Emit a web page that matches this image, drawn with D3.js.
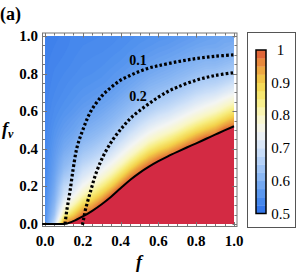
<!DOCTYPE html>
<html>
<head>
<meta charset="utf-8">
<script src="https://cdn.jsdelivr.net/npm/d3@7"></script>
<style>
  body { margin: 0; background: #fff; }
</style>
</head>
<body>
<script>
// grid of the density field: columns are f, rows are f_v from top (1.0) to bottom (0.0)
const gridF = [0, 0.05, 0.1, 0.15, 0.2, 0.25, 0.3, 0.35, 0.4, 0.45, 0.5, 0.55, 0.6, 0.65, 0.7, 0.75, 0.8, 0.85, 0.9, 0.95, 1];
const gridFv = [1, 0.95, 0.9, 0.85, 0.8, 0.75, 0.7, 0.65, 0.6, 0.55, 0.5, 0.45, 0.4, 0.35, 0.3, 0.25, 0.2, 0.15, 0.1, 0.05, 0];
const fieldRows = [
  [.525, .528, .532, .536, .538, .539, .540, .542, .545, .548, .551, .554, .556, .558, .562, .566, .571, .575, .579, .584, .580],
  [.526, .530, .533, .537, .540, .541, .542, .545, .548, .552, .556, .559, .563, .566, .571, .576, .581, .585, .586, .592, .598],
  [.527, .532, .535, .539, .542, .544, .546, .549, .552, .557, .562, .567, .572, .576, .581, .587, .594, .600, .598, .604, .610],
  [.528, .534, .537, .541, .545, .548, .549, .553, .557, .563, .570, .577, .582, .587, .594, .601, .609, .615, .615, .623, .632],
  [.529, .536, .540, .544, .548, .550, .553, .558, .564, .572, .580, .588, .595, .601, .609, .617, .627, .635, .637, .647, .658],
  [.530, .538, .543, .548, .552, .555, .558, .564, .573, .582, .592, .603, .610, .617, .627, .637, .649, .660, .665, .678, .695],
  [.531, .540, .546, .552, .557, .561, .566, .574, .583, .595, .607, .619, .629, .637, .649, .663, .678, .690, .700, .720, .740],
  [.532, .543, .550, .556, .563, .569, .576, .584, .597, .610, .625, .640, .652, .663, .678, .694, .714, .730, .746, .770, .795],
  [.533, .546, .555, .562, .573, .579, .587, .599, .612, .629, .647, .663, .681, .694, .714, .734, .755, .775, .795, .828, .863],
  [.534, .550, .562, .572, .583, .591, .601, .613, .631, .652, .675, .698, .718, .734, .755, .780, .807, .835, .863, .902, .940],
  [.535, .555, .570, .580, .597, .606, .617, .633, .655, .681, .710, .738, .760, .780, .807, .842, .878, .910, .940, .990, 1],
  [.536, .560, .580, .592, .612, .623, .638, .657, .684, .718, .750, .785, .814, .842, .878, .918, .960, 1, 1, 1, 1],
  [.537, .565, .590, .607, .631, .645, .663, .687, .722, .760, .800, .849, .886, .918, .960, 1, 1, 1, 1, 1, 1],
  [.538, .570, .605, .625, .655, .672, .694, .726, .765, .814, .870, .926, .970, 1, 1, 1, 1, 1, 1, 1, 1],
  [.539, .575, .620, .645, .684, .706, .734, .770, .821, .886, .950, 1, 1, 1, 1, 1, 1, 1, 1, 1, 1],
  [.540, .582, .645, .670, .715, .745, .780, .828, .894, .970, 1, 1, 1, 1, 1, 1, 1, 1, 1, 1, 1],
  [.542, .590, .675, .705, .755, .795, .842, .902, .980, 1, 1, 1, 1, 1, 1, 1, 1, 1, 1, 1, 1],
  [.544, .600, .700, .745, .810, .863, .918, .990, 1, 1, 1, 1, 1, 1, 1, 1, 1, 1, 1, 1, 1],
  [.546, .615, .750, .810, .894, .940, 1, 1, 1, 1, 1, 1, 1, 1, 1, 1, 1, 1, 1, 1, 1],
  [.548, .635, .820, .900, .980, 1, 1, 1, 1, 1, 1, 1, 1, 1, 1, 1, 1, 1, 1, 1, 1],
  [.550, .680, .970, 1, 1, 1, 1, 1, 1, 1, 1, 1, 1, 1, 1, 1, 1, 1, 1, 1, 1]
];

// solid boundary of the saturated (red) region
const boundary = [[-0.015, 0], [0, 0], [0.05, 0], [0.1, 0], [0.15, 0.015], [0.2, 0.04], [0.25, 0.07], [0.3, 0.105],
  [0.35, 0.145], [0.4, 0.19], [0.45, 0.234], [0.5, 0.272], [0.55, 0.305], [0.6, 0.334], [0.65, 0.36],
  [0.7, 0.384], [0.75, 0.407], [0.8, 0.429], [0.85, 0.452], [0.9, 0.475], [0.95, 0.498], [1, 0.52]];

// dotted contours
const contour01 = [[0.106, 0], [0.115, 0.07], [0.132, 0.172], [0.15, 0.3], [0.17, 0.41], [0.2, 0.5], [0.24, 0.595],
  [0.3, 0.68], [0.35, 0.727], [0.4, 0.765], [0.45, 0.79], [0.5, 0.812], [0.55, 0.83], [0.6, 0.842],
  [0.7, 0.863], [0.8, 0.88], [0.9, 0.892], [1, 0.9]];
const contour02 = [[0.198, -0.005], [0.205, 0.03], [0.215, 0.08], [0.24, 0.17], [0.27, 0.27], [0.31, 0.365],
  [0.36, 0.45], [0.41, 0.515], [0.45, 0.56], [0.5, 0.603], [0.55, 0.64], [0.6, 0.675], [0.65, 0.705],
  [0.7, 0.728], [0.8, 0.765], [0.9, 0.79], [1, 0.805]];
const contourLabels = ['0.1', '0.2'];

const axisTicks = [0, 0.2, 0.4, 0.6, 0.8, 1];
const minorTicks = [0, 0.05, 0.1, 0.15, 0.2, 0.25, 0.3, 0.35, 0.4, 0.45, 0.5, 0.55, 0.6, 0.65, 0.7, 0.75, 0.8, 0.85, 0.9, 0.95, 1];
const barTicks = [0.5, 0.6, 0.7, 0.8, 0.9, 1];
const barTickLabels = ['0.5', '0.6', '0.7', '0.8', '0.9', '1'];
const barBands = [0.5, 0.525, 0.55, 0.575, 0.6, 0.625, 0.65, 0.675, 0.7, 0.725, 0.75, 0.775, 0.8, 0.825, 0.85, 0.875, 0.9, 0.925, 0.95, 0.975];

const colorStops = [0.5, 0.55, 0.6, 0.65, 0.7, 0.75, 0.8, 0.85, 0.9, 0.95, 1];
const colorHex = ['#2c6fe8', '#4f90ee', '#7fb0f2', '#aacbf6', '#d2e3f8', '#f3f5f3', '#f9f6c4', '#f7ec7c', '#f3d24c', '#eb9a3e', '#dd5436'];

const W = 296, H = 273;
const svg = d3.select('body').append('svg')
  .attr('width', W).attr('height', H);

// every text node gets the serif face as a plain attribute
function label(parent, txt) {
  return parent.append('text').attr('font-family', 'Liberation Serif').text(txt);
}

const x = d3.scaleLinear().domain([0, 1]).range([45, 234]);
const y = d3.scaleLinear().domain([0, 1]).range([224, 36]);
const color = d3.scaleLinear().domain(colorStops).range(colorHex).clamp(true);

svg.append('clipPath').attr('id', 'plotclip')
  .append('rect')
  .attr('x', x(0)).attr('y', y(1))
  .attr('width', x(1) - x(0)).attr('height', y(0) - y(1));

// density field via d3.contours, many thin levels so it reads as a smooth gradient
const n = gridF.length, m = gridFv.length;
const values = fieldRows.flat();
const step = 0.005;
const levels = d3.range(0.5, 1.0, step);
const bands = d3.contours().size([n, m]).thresholds(levels)(values);
const gx = d3.scaleLinear().domain([0.5, n - 0.5]).range([gridF[0], gridF[n - 1]]);
const gy = d3.scaleLinear().domain([0.5, m - 0.5]).range([gridFv[0], gridFv[m - 1]]);
const toScreen = d3.geoTransform({
  point(px, py) { this.stream.point(x(gx(px)), y(gy(py))); }
});
const bandPath = d3.geoPath(toScreen);

const field = svg.append('g').attr('clip-path', 'url(#plotclip)');
field.selectAll('path.band')
  .data(bands)
  .enter()
  .append('path')
  .attr('class', 'band')
  .attr('d', bandPath)
  .attr('fill', d => color(d.value + step / 2));

// saturated region under the boundary
const redPts = boundary.filter(d => d[0] >= 0.1);
field.append('path')
  .datum(redPts)
  .attr('d', d3.area().x(d => x(d[0])).y0(y(0)).y1(d => y(d[1])).curve(d3.curveMonotoneX))
  .attr('fill', '#d32a43');

// frame with inward ticks
const fx0 = 42.5, fx1 = 237, fy0 = 33, fy1 = 226.5;
svg.append('rect')
  .attr('x', fx0).attr('y', fy0)
  .attr('width', fx1 - fx0).attr('height', fy1 - fy0)
  .attr('fill', 'none').attr('stroke', '#777').attr('stroke-width', 1);

const tickG = svg.append('g').attr('stroke', '#777').attr('stroke-width', 1);
minorTicks.forEach(t => {
  const major = axisTicks.some(a => Math.abs(a - t) < 1e-9);
  const len = major ? 4.5 : 2.5;
  const px = Math.round(x(t)) + 0.5, py = Math.round(y(t)) + 0.5;
  tickG.append('line').attr('x1', px).attr('x2', px).attr('y1', fy1).attr('y2', fy1 - len);
  tickG.append('line').attr('x1', px).attr('x2', px).attr('y1', fy0).attr('y2', fy0 + len);
  tickG.append('line').attr('y1', py).attr('y2', py).attr('x1', fx0).attr('x2', fx0 + len);
  tickG.append('line').attr('y1', py).attr('y2', py).attr('x1', fx1).attr('x2', fx1 - len);
});

// tick labels
const tickLabels = svg.append('g');
axisTicks.forEach(t => {
  label(tickLabels, d3.format('.1f')(t))
    .attr('x', x(t)).attr('y', 246)
    .attr('text-anchor', 'middle')
    .attr('font-size', 15).attr('font-weight', 'bold');
  label(tickLabels, d3.format('.1f')(t))
    .attr('x', 38).attr('y', y(t) + 5)
    .attr('text-anchor', 'end')
    .attr('font-size', 15).attr('font-weight', 'bold');
});

// boundary and contour lines
const line = d3.line().x(d => x(d[0])).y(d => y(d[1]));
svg.append('path')
  .datum(boundary)
  .attr('d', line.curve(d3.curveMonotoneX))
  .attr('fill', 'none')
  .attr('stroke', '#000')
  .attr('stroke-width', 2);

const dotted = d3.line().x(d => x(d[0])).y(d => y(d[1])).curve(d3.curveCatmullRom);
[contour01, contour02].forEach(c => {
  svg.append('path')
    .datum(c)
    .attr('d', dotted)
    .attr('fill', 'none')
    .attr('stroke', '#000')
    .attr('stroke-width', 3.2)
    .attr('stroke-dasharray', '2.6,2.2');
});

label(svg, contourLabels[0]).attr('x', 138).attr('y', 64.5)
  .attr('text-anchor', 'middle').attr('font-size', 14).attr('font-weight', 'bold');
label(svg, contourLabels[1]).attr('x', 138).attr('y', 100.5)
  .attr('text-anchor', 'middle').attr('font-size', 14).attr('font-weight', 'bold');

// axis labels and panel tag
label(svg, 'f').attr('x', 139).attr('y', 268)
  .attr('text-anchor', 'middle')
  .attr('font-size', 18).attr('font-style', 'italic').attr('font-weight', 'bold');

const yl = label(svg, null).attr('x', 2).attr('y', 135)
  .attr('font-size', 18).attr('font-style', 'italic').attr('font-weight', 'bold');
yl.append('tspan').text('f');
yl.append('tspan').attr('dy', 3).attr('font-size', 12).text('v');

label(svg, '(a)').attr('x', 0).attr('y', 20)
  .attr('font-size', 18).attr('font-weight', 'bold');

// colour bar legend
const legend = svg.append('g');
legend.append('rect')
  .attr('x', 247.5).attr('y', 32.5)
  .attr('width', 48).attr('height', 195)
  .attr('fill', '#fff').attr('stroke', '#555').attr('stroke-width', 1);

const cScale = d3.scaleLinear().domain([0.5, 1]).range([213.5, 50]);
legend.selectAll('rect.band')
  .data(barBands)
  .enter()
  .append('rect')
  .attr('class', 'band')
  .attr('x', 256)
  .attr('width', 10)
  .attr('y', d => cScale(d + 0.025))
  .attr('height', d => cScale(d) - cScale(d + 0.025) + 0.3)
  .attr('fill', d => color(d + 0.0125));

legend.append('rect')
  .attr('x', 256).attr('y', cScale(1))
  .attr('width', 10).attr('height', cScale(0.5) - cScale(1))
  .attr('fill', 'none').attr('stroke', '#000').attr('stroke-width', 1.5);

barTicks.forEach((t, i) => {
  label(legend, barTickLabels[i])
    .attr('x', 280.5).attr('y', cScale(t) + 5)
    .attr('text-anchor', 'middle')
    .attr('font-size', 15);
});
</script>
</body>
</html>
